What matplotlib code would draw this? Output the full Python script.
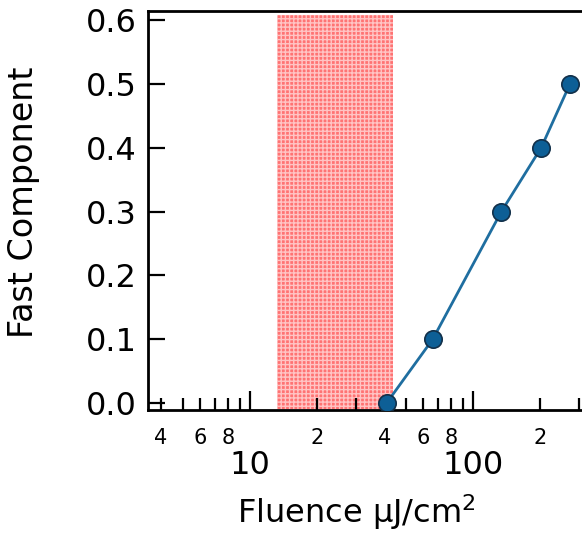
import matplotlib
matplotlib.use("Agg")
import matplotlib.pyplot as plt
from matplotlib.ticker import FixedLocator, FixedFormatter

plt.rcParams['font.family'] = ['DejaVu Sans']
plt.rcParams['mathtext.fontset'] = 'dejavusans'

# data
fluence = [41, 66, 134, 202, 272]
fast_component = [0.0, 0.1, 0.3, 0.4, 0.5]
shade_range = [13.2, 43.7]
yticks = [0.0, 0.1, 0.2, 0.3, 0.4, 0.5, 0.6]
ytick_labels = ["0.0", "0.1", "0.2", "0.3", "0.4", "0.5", "0.6"]
major_xticks = [10, 100]
major_xlabels = ["10", "100"]
minor_xticks = [4, 5, 6, 7, 8, 9, 20, 30, 40, 50, 60, 70, 80, 90, 200, 300]
minor_xlabels = ["4", "", "6", "", "8", "", "2", "", "4", "", "6", "", "8", "", "2", ""]

fig = plt.figure(figsize=(5.82, 5.34), dpi=100)
ax = fig.add_axes([0.254, 0.232, 0.746, 0.747])

ax.axvspan(shade_range[0], shade_range[1], ymin=0.0035, ymax=0.99,
           facecolor='#ff7373', edgecolor='#ffc4c4', hatch='++++', linewidth=0, zorder=1)

ax.plot(fluence, fast_component, '-', color='#1f6ea0', linewidth=2, zorder=3)
ax.plot(fluence, fast_component, 'o', markersize=12.5, markerfacecolor='#0d5f96',
        markeredgecolor='#12304a', markeredgewidth=1.2, zorder=4, linestyle='none')

ax.set_xscale('log')
ax.set_xlim(3.49, 308)
ax.set_ylim(-0.011, 0.614)

for s in ['left', 'bottom', 'top']:
    ax.spines[s].set_linewidth(2)
ax.spines['right'].set_visible(False)

ax.set_yticks(yticks)
ax.set_yticklabels(ytick_labels, fontsize=23)
ax.tick_params(axis='y', direction='in', length=12, width=1.6, pad=8)

ax.xaxis.set_major_locator(FixedLocator(major_xticks))
ax.xaxis.set_major_formatter(FixedFormatter(major_xlabels))
ax.xaxis.set_minor_locator(FixedLocator(minor_xticks))
ax.xaxis.set_minor_formatter(FixedFormatter(minor_xlabels))
ax.tick_params(axis='x', which='major', direction='in', length=14, width=1.6,
               labelsize=23, pad=29)
ax.tick_params(axis='x', which='minor', direction='in', length=9, width=1.6,
               labelsize=15, pad=13)

ax.set_ylabel("Fast Component", fontsize=24)
ax.yaxis.set_label_coords(-0.249, 0.52)
ax.set_xlabel("Fluence μJ/cm$^2$", fontsize=23)
ax.xaxis.set_label_coords(0.48, -0.205)

fig.savefig("out.png", dpi=100)
